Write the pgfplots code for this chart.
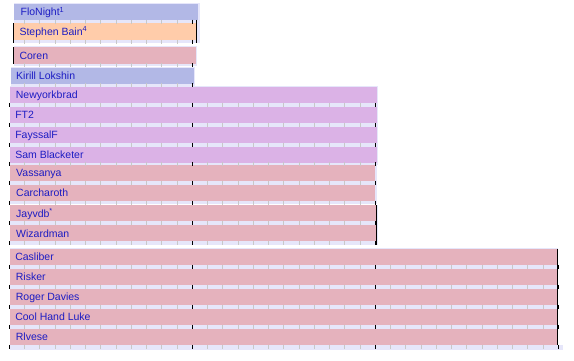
\documentclass[border=0pt]{standalone}
\usepackage{fontspec}
\setmainfont{Liberation Sans}
\usepackage{pgfplots}
\pgfplotsset{compat=1.18}
\usepackage{pgfplotstable}

\definecolor{lav}{RGB}{230,230,250}
\definecolor{tickg}{RGB}{200,200,200}
\definecolor{cblue}{RGB}{178,184,230}
\definecolor{cpeach}{RGB}{255,204,170}
\definecolor{cpink}{RGB}{229,178,189}
\definecolor{cpurple}{RGB}{219,178,230}
\definecolor{ctext}{RGB}{28,28,195}

% month positions (x axis unit = month); second column unused
\pgfplotstableread{
m d
0 0
1 0
2 0
3 0
4 0
5 0
6 0
7 0
8 0
9 0
10 0
11 0
12 0
13 0
14 0
15 0
16 0
17 0
18 0
19 0
20 0
21 0
22 0
23 0
24 0
25 0
26 0
27 0
28 0
29 0
30 0
31 0
32 0
33 0
34 0
35 0
36 0
}\months
\pgfplotstableread{
m d
0 0
12 0
24 0
36 0
}\years

\pgfplotsset{
  gtick/.style={only marks, mark=|, mark size=2bp, mark options={draw=tickg, line width=0.8bp}},
  btick/.style={only marks, mark=|, mark size=2bp, mark options={draw=black, line width=1bp}},
}
\tikzset{lbl/.style={anchor=base west, inner sep=0pt, text=ctext, font=\fontsize{10.5bp}{12bp}\selectfont}}

\begin{document}
\begin{tikzpicture}
\begin{axis}[
  scale only axis, width=574bp, height=361bp,
  xmin=-0.61, xmax=37.03, ymin=0, ymax=361, y dir=reverse,
  hide axis, clip=false,
]
% white canvas over the whole plot area
\addplot[fill=white, draw=none] coordinates {(-0.61,0) (37.03,0) (37.03,361) (-0.61,361)};
% lavender row backgrounds
\addplot[fill=lav, draw=none] coordinates {(0.31,3) (12.5,3) (12.5,43.5) (0.31,43.5)};
\addplot[fill=lav, draw=none] coordinates {(0.28,46.5) (12.3,46.5) (12.3,66.5) (0.28,66.5)};
\addplot[fill=lav, draw=none] coordinates {(0.11,67.5) (12.2,67.5) (12.2,86.5) (0.11,86.5)};
\addplot[fill=lav, draw=none] coordinates {(0.05,86.5) (24.2,86.5) (24.2,165) (0.05,165)};
\addplot[fill=lav, draw=none] coordinates {(0.05,165) (24.1,165) (24.1,204.5) (0.05,204.5)};
\addplot[fill=lav, draw=none] coordinates {(0.05,205) (24.15,205) (24.15,245.5) (0.05,245.5)};
\addplot[fill=lav, draw=none] coordinates {(0.05,248.5) (35.95,248.5) (35.95,345) (0.05,345)};
\addplot[fill=lav, draw=none] coordinates {(0.05,345) (36.33,345) (36.33,350) (0.05,350)};

% month ticks in the strips
\pgfplotsinvokeforeach{21.7,41.7}{\addplot[gtick, restrict x to domain=0.4:12.5] table[x=m, y expr=#1] {\months};}
\addplot[gtick, restrict x to domain=0.4:12.3] table[x=m, y expr=65.3] {\months};
\addplot[gtick, restrict x to domain=0.2:12.2] table[x=m, y expr=85.5] {\months};
\pgfplotsinvokeforeach{105,125,145,164}{\addplot[gtick, restrict x to domain=0:24.2] table[x=m, y expr=#1] {\months};}
\pgfplotsinvokeforeach{183,203}{\addplot[gtick, restrict x to domain=0:24.1] table[x=m, y expr=#1] {\months};}
\pgfplotsinvokeforeach{223.5,243.5}{\addplot[gtick, restrict x to domain=0:24.15] table[x=m, y expr=#1] {\months};}
\pgfplotsinvokeforeach{267,287,307,327,347}{\addplot[gtick, restrict x to domain=0:36] table[x=m, y expr=#1] {\months};}
% year ticks
\pgfplotsinvokeforeach{21.7,41.7,65.3,85.5}{\addplot[btick, restrict x to domain=0.4:12.5] table[x=m, y expr=#1] {\years};}
\pgfplotsinvokeforeach{105,125,145,164,183,203,223.5,243.5}{\addplot[btick, restrict x to domain=0:24.2] table[x=m, y expr=#1] {\years};}
\pgfplotsinvokeforeach{267,287,307,327,347}{\addplot[btick, restrict x to domain=0:36] table[x=m, y expr=#1] {\years};}

% bars
\addplot[fill=cblue,   draw=none] coordinates {(0.31,4) (12.37,4) (12.37,20) (0.31,20)};
\addplot[fill=cpeach,  draw=none] coordinates {(0.31,23.5) (12.24,23.5) (12.24,40) (0.31,40)};
\addplot[fill=cpink,   draw=none] coordinates {(0.28,47) (12.24,47) (12.24,64) (0.28,64)};
\addplot[fill=cblue,   draw=none] coordinates {(0.11,68) (12.11,68) (12.11,84) (0.11,84)};
\addplot[fill=cpurple, draw=none] coordinates {(0.05,87) (24.14,87) (24.14,103) (0.05,103)};
\addplot[fill=cpurple, draw=none] coordinates {(0.05,107) (24.14,107) (24.14,123) (0.05,123)};
\addplot[fill=cpurple, draw=none] coordinates {(0.05,127) (24.14,127) (24.14,143) (0.05,143)};
\addplot[fill=cpurple, draw=none] coordinates {(0.05,147) (24.14,147) (24.14,163) (0.05,163)};
\addplot[fill=cpink,   draw=none] coordinates {(0.05,165) (23.98,165) (23.98,181) (0.05,181)};
\addplot[fill=cpink,   draw=none] coordinates {(0.05,185) (23.98,185) (23.98,201) (0.05,201)};
\addplot[fill=cpink,   draw=none] coordinates {(0.05,205.5) (24.07,205.5) (24.07,221.5) (0.05,221.5)};
\addplot[fill=cpink,   draw=none] coordinates {(0.05,225.5) (24.07,225.5) (24.07,241.5) (0.05,241.5)};
\addplot[fill=cpink,   draw=none] coordinates {(0.05,249) (35.9,249) (35.9,265) (0.05,265)};
\addplot[fill=cpink,   draw=none] coordinates {(0.05,269) (35.9,269) (35.9,285) (0.05,285)};
\addplot[fill=cpink,   draw=none] coordinates {(0.05,289) (35.9,289) (35.9,305) (0.05,305)};
\addplot[fill=cpink,   draw=none] coordinates {(0.05,309) (35.9,309) (35.9,325) (0.05,325)};
\addplot[fill=cpink,   draw=none] coordinates {(0.05,329) (35.9,329) (35.9,345) (0.05,345)};

% term-end lines
\addplot[black, line width=1bp] coordinates {(12.26,20) (12.26,43.5)};
\addplot[black, line width=1bp] coordinates {(0.25,23.5) (0.25,43.5)};
\addplot[black, line width=1bp] coordinates {(0.26,47) (0.26,64)};
\addplot[black, line width=1bp] coordinates {(24.1,205.5) (24.1,245.5)};
\addplot[black, line width=1.2bp] coordinates {(35.95,249) (35.95,345)};

% labels
\node[lbl] at (axis cs:0.73,16)  {FloNight\textsuperscript{1}};
\node[lbl] at (axis cs:0.66,35.8) {Stephen Bain\textsuperscript{4}};
\node[lbl] at (axis cs:0.66,59.5) {Coren};
\node[lbl] at (axis cs:0.44,80)  {Kirill Lokshin};
\node[lbl] at (axis cs:0.42,99)  {Newyorkbrad};
\node[lbl] at (axis cs:0.38,119) {FT2};
\node[lbl] at (axis cs:0.38,139) {FayssalF};
\node[lbl] at (axis cs:0.38,159) {Sam Blacketer};
\node[lbl] at (axis cs:0.44,177) {Vassanya};
\node[lbl] at (axis cs:0.44,197) {Carcharoth};
\node[lbl] at (axis cs:0.44,217.5) {Jayvdb\textsuperscript{*}};
\node[lbl] at (axis cs:0.44,237.5) {Wizardman};
\node[lbl] at (axis cs:0.38,261) {Casliber};
\node[lbl] at (axis cs:0.42,281) {Risker};
\node[lbl] at (axis cs:0.42,301) {Roger Davies};
\node[lbl] at (axis cs:0.38,321) {Cool Hand Luke};
\node[lbl] at (axis cs:0.42,341) {Rlvese};
\end{axis}
\end{tikzpicture}
\end{document}
